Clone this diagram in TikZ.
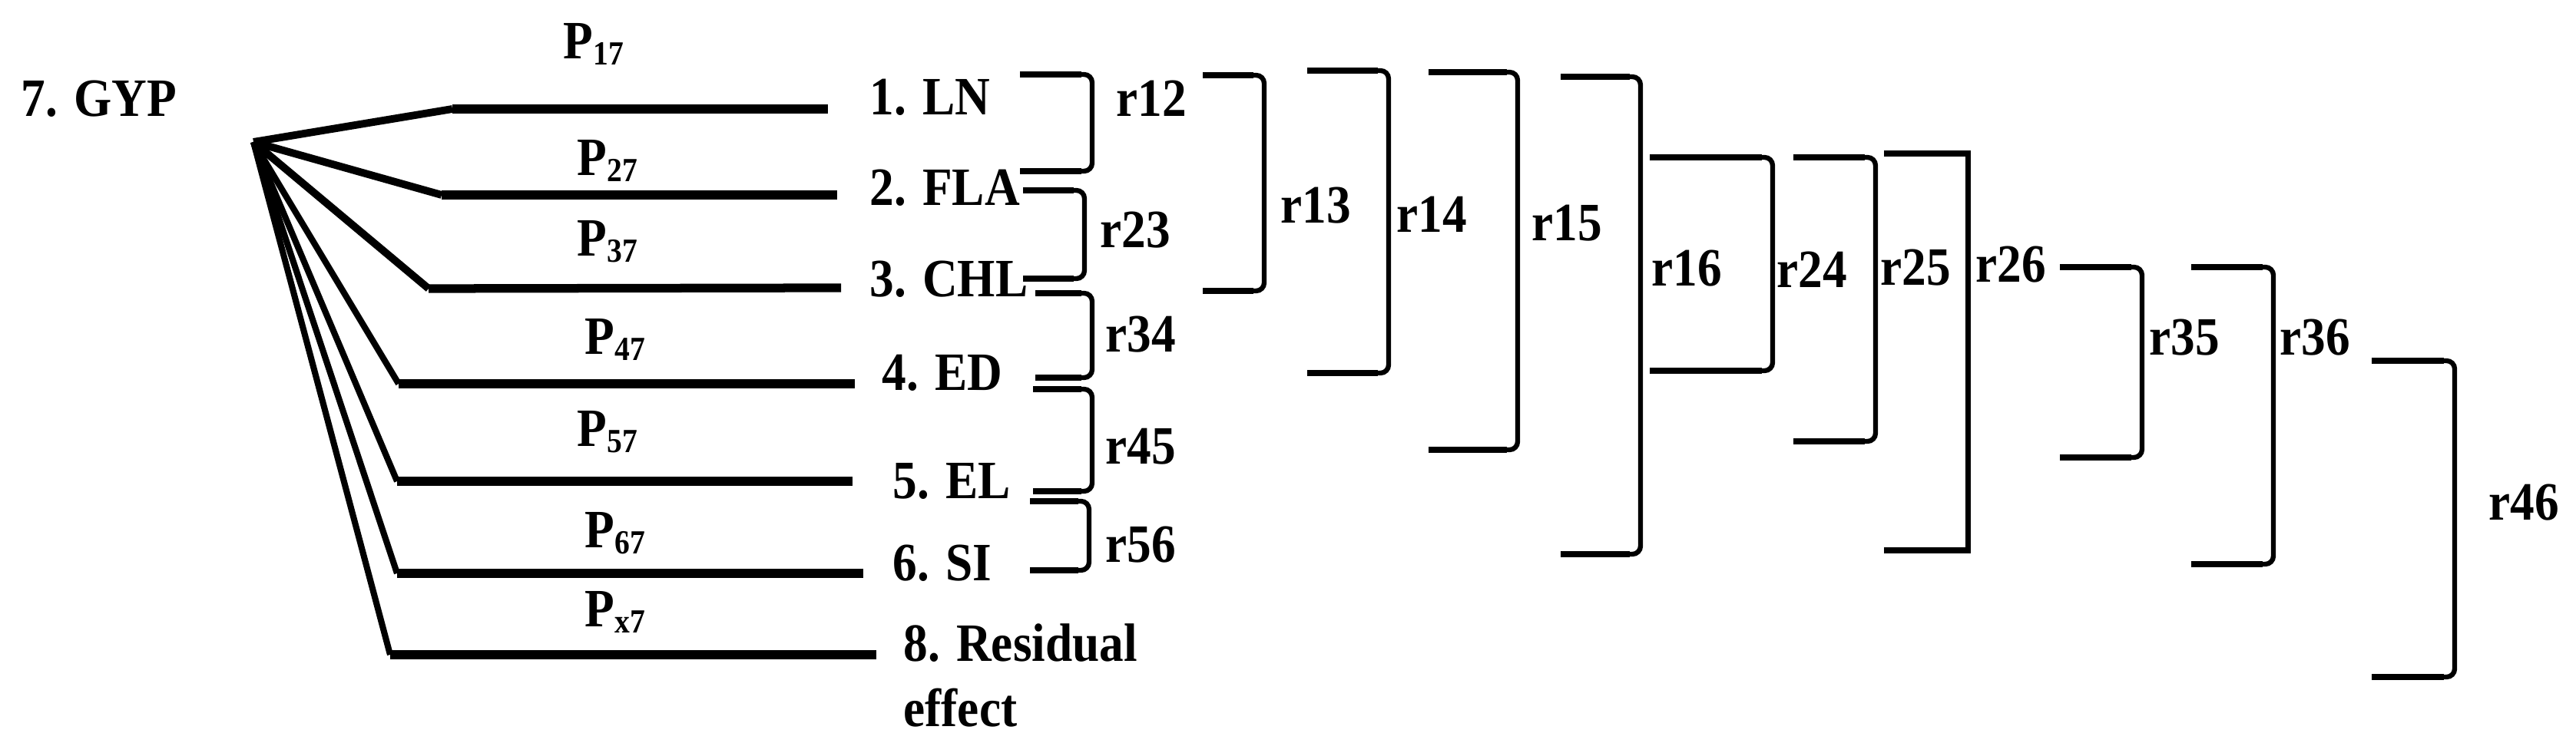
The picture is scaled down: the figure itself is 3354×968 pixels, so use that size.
\documentclass[tikz,border=0pt]{standalone}
\usepackage{fontspec}
\setmainfont{Liberation Serif}
\newcommand{\sq}[1]{\scalebox{0.9}[1]{#1}}
\newcommand{\psub}[1]{P\raisebox{-2pt}{\fontsize{12.5}{12.5}\selectfont #1}}
\newcommand{\brkt}[4]{\draw[brk] (#1,#3) -- (#2,#3) -- (#2,#4) -- (#1,#4);
  \draw[arm] (#1,#3) -- ($(#2,#3)+(-14,0)$);
  \draw[arm] (#1,#4) -- ($(#2,#4)+(-14,0)$);}
\usetikzlibrary{calc}
\begin{document}
\begin{tikzpicture}[x=0.01cm,y=-0.01cm,
  lbl/.style={anchor=base west,inner sep=0pt,font=\fontsize{20}{24}\selectfont\bfseries},
  hline/.style={line width=3.2pt},
  diagA/.style={line width=2.8pt},
  diagB/.style={line width=2.3pt},
  brk/.style={line width=1.8pt,rounded corners=3pt},
  arm/.style={line width=2.5pt},
  brks/.style={line width=2pt}]
\useasboundingbox (0,0) rectangle (3354,968);

% texts
\node[lbl] (gyp) at (27,152) {\sq{7. GYP}};
\node[lbl] (ln)  at (1132,150) {\sq{1. LN}};
\node[lbl] (fla) at (1132,268) {\sq{2. FLA}};
\node[lbl] (chl) at (1132,387) {\sq{3. CHL}};
\node[lbl] (ed)  at (1148,509) {\sq{4. ED}};
\node[lbl] (el)  at (1162,650) {\sq{5. EL}};
\node[lbl] (si)  at (1162,757) {\sq{6. SI}};
\node[lbl] (res) at (1176,862) {\sq{8. Residual}};
\node[lbl] (eff) at (1176,947) {\sq{effect}};

\node[lbl] (p17) at (733,77)  {\sq{\psub{17}}};
\node[lbl] (p27) at (751,229) {\sq{\psub{27}}};
\node[lbl] (p37) at (751,334) {\sq{\psub{37}}};
\node[lbl] (p47) at (761,462) {\sq{\psub{47}}};
\node[lbl] (p57) at (751,582) {\sq{\psub{57}}};
\node[lbl] (p67) at (761,714) {\sq{\psub{67}}};
\node[lbl] (px7) at (761,817) {\sq{\psub{x7}}};

\node[lbl] (r12) at (1453,152) {\sq{r12}};
\node[lbl] (r23) at (1432,323) {\sq{r23}};
\node[lbl] (r34) at (1439,459) {\sq{r34}};
\node[lbl] (r45) at (1439,605) {\sq{r45}};
\node[lbl] (r56) at (1439,733) {\sq{r56}};
\node[lbl] (r13) at (1667,291) {\sq{r13}};
\node[lbl] (r14) at (1818,303) {\sq{r14}};
\node[lbl] (r15) at (1994,314) {\sq{r15}};
\node[lbl] (r16) at (2150,373) {\sq{r16}};
\node[lbl] (r24) at (2313,375) {\sq{r24}};
\node[lbl] (r25) at (2448,372) {\sq{r25}};
\node[lbl] (r26) at (2572,368) {\sq{r26}};
\node[lbl] (r35) at (2798,463) {\sq{r35}};
\node[lbl] (r36) at (2968,463) {\sq{r36}};
\node[lbl] (r46) at (3240,678) {\sq{r46}};

% path lines
\coordinate (hub) at (330,185);
\coordinate (c1) at (589,142);  \coordinate (e1) at (1078,142);
\coordinate (c2) at (575,254);  \coordinate (e2) at (1090,254);
\coordinate (c3) at (558,376);  \coordinate (e3) at (1095,375);
\coordinate (c4) at (519,500);  \coordinate (e4) at (1113,500);
\coordinate (c5) at (517,627);  \coordinate (e5) at (1110,627);
\coordinate (c6) at (517,747);  \coordinate (e6) at (1124,747);
\coordinate (cx) at (508,853);  \coordinate (ex) at (1141,853);

\draw[diagA] (hub) -- (c1);
\draw[diagA] (hub) -- (c2);
\draw[diagA] (hub) -- (c3);
\draw[diagB] (hub) -- (c4);
\draw[diagB] (hub) -- (c5);
\draw[diagB] (hub) -- (c6);
\draw[diagB] (hub) -- (cx);
\draw[hline] (c1) -- (e1);
\draw[hline] (c2) -- (e2);
\draw[hline] (c3) -- (e3);
\draw[hline] (c4) -- (e4);
\draw[hline] (c5) -- (e5);
\draw[hline] (c6) -- (e6);
\draw[hline] (cx) -- (ex);

% brackets
\brkt{1328}{1422}{97}{223}
\brkt{1332}{1412}{248}{363}
\brkt{1348}{1422}{382}{492}
\brkt{1345}{1422}{507}{640}
\brkt{1341}{1418}{653}{743}
\brkt{1566}{1646}{98}{379}
\brkt{1702}{1808}{92}{486}
\brkt{1860}{1976}{94}{586}
\brkt{2032}{2136}{100}{722}
\brkt{2148}{2308}{205}{483}
\brkt{2335}{2442}{205}{575}
\draw[brks] (2453,200) -- (2562,200) -- (2562,717) -- (2453,717);
\brkt{2682}{2789}{348}{596}
\brkt{2853}{2960}{348}{735}
\brkt{3088}{3196}{470}{882}
\end{tikzpicture}
\end{document}
